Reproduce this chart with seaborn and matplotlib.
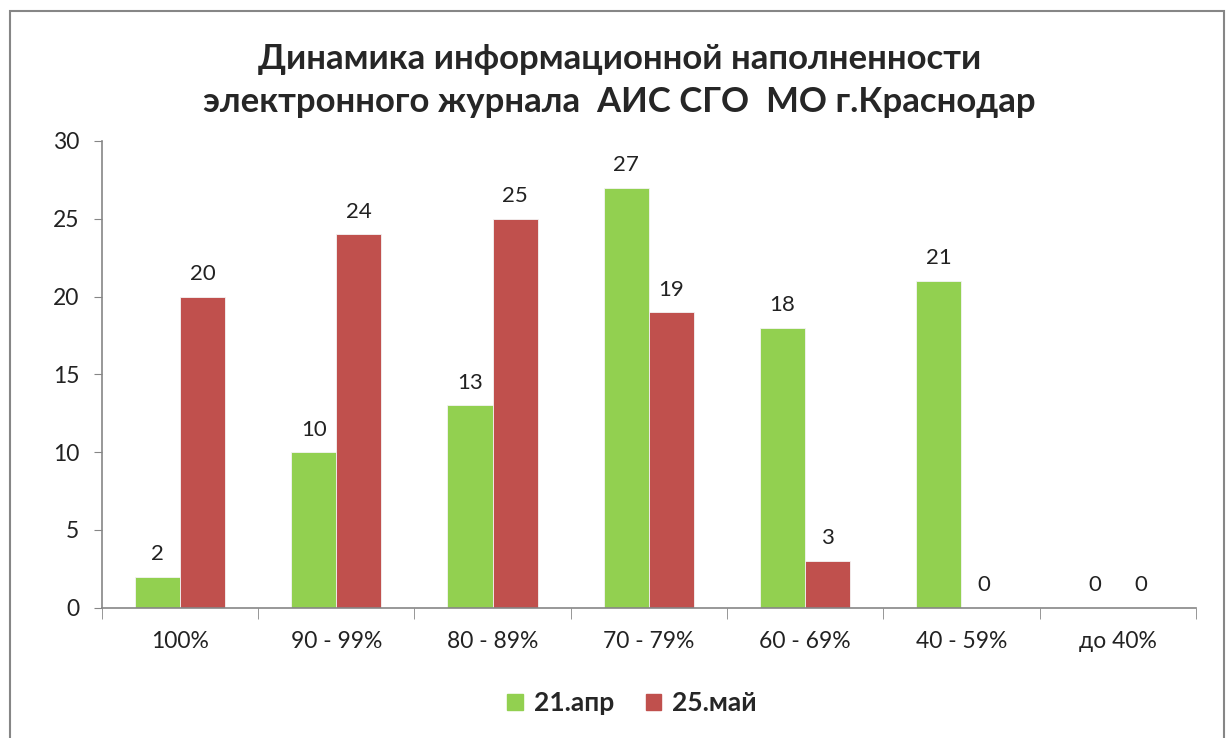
import matplotlib
matplotlib.use("Agg")
import matplotlib.pyplot as plt
from matplotlib.patches import Rectangle
import pandas as pd
import seaborn as sns

categories = ["100%", "90 - 99%", "80 - 89%", "70 - 79%", "60 - 69%", "40 - 59%", "до 40%"]
apr = [2, 10, 13, 27, 18, 21, 0]
may = [20, 24, 25, 19, 3, 0, 0]
series = ["21.апр", "25.май"]
colors = ["#92D050", "#C0504D"]

df = pd.DataFrame({
    "cat": categories * 2,
    "val": apr + may,
    "series": [series[0]] * len(categories) + [series[1]] * len(categories),
})

sns.set_style("white")
plt.rcParams["font.family"] = ["Lato", "DejaVu Sans"]

fig = plt.figure(figsize=(12.27, 7.38), dpi=100)
ax = fig.add_axes([0.0829, 0.1766, 0.8918, 0.6324])

sns.barplot(data=df, x="cat", y="val", hue="series", palette=colors,
            width=0.577, saturation=1, ax=ax, legend=False, linewidth=0.6, edgecolor="#f4f4f4")

for c in ax.containers:
    ax.bar_label(c, padding=9, fontsize=16, color="#222222")

ax.set_ylim(0, 30)
ax.set_xlim(-0.5, len(categories) - 0.5)
ax.set_yticks(range(0, 31, 5))
ax.set_xlabel("")
ax.set_ylabel("")
ax.tick_params(axis="y", labelsize=16.5, length=6, color="#868686", pad=10, left=True, labelcolor="#222222")
ax.tick_params(axis="x", which="major", length=0, labelsize=16.5, pad=17, labelcolor="#222222")
ax.set_xticks([i - 0.5 for i in range(len(categories) + 1)], minor=True)
ax.tick_params(axis="x", which="minor", length=8, color="#868686", bottom=True)
for s in ["top", "right"]:
    ax.spines[s].set_visible(False)
for s in ["left", "bottom"]:
    ax.spines[s].set_color("#868686")
    ax.spines[s].set_linewidth(1.2)

fig.text(0.505, 0.891, "Динамика информационной наполненности\nэлектронного журнала  АИС СГО  МО г.Краснодар",
         ha="center", va="center", fontsize=25, fontweight="bold", linespacing=1.45)

handles = [Rectangle((0, 0), 1, 1, color=c) for c in colors]
fig.legend(handles, series, loc="center", bbox_to_anchor=(0.515, 0.047), ncol=2,
           frameon=False, prop={"weight": "bold", "size": 19}, handlelength=0.6,
           handleheight=0.6, handletextpad=0.4, columnspacing=1.2)

fig.patches.append(Rectangle((10 / 1227, -0.01), 1214 / 1227, 1 - 11 / 738 + 0.01,
                             transform=fig.transFigure, fill=False,
                             edgecolor="#868686", linewidth=1.5))

fig.savefig("out.png", dpi=100)
